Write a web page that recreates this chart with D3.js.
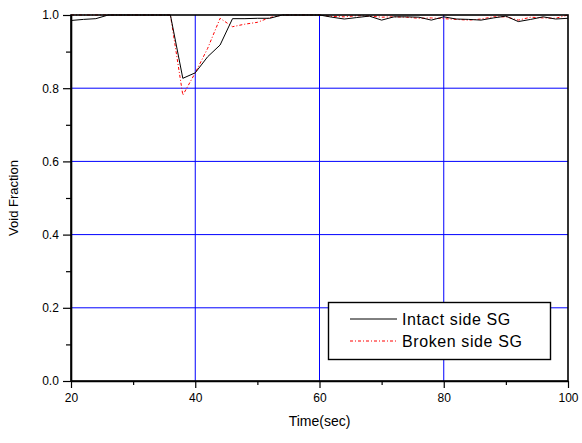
<!DOCTYPE html>
<html>
<head>
<meta charset="utf-8">
<script src="https://cdn.jsdelivr.net/npm/d3@7"></script>
<style>
  html, body { margin: 0; padding: 0; background: #fff; }
  svg { display: block; font-family: "Liberation Sans", Arial, sans-serif; }
</style>
</head>
<body>
<svg id="chart" width="582" height="443"></svg>
<script>
// Sample times (s)
const time = [20,22,24,26,28,30,32,34,36,38,40,42,44,46,48,50,52,54,56,58,60,
              62,64,66,68,70,72,74,76,78,80,82,84,86,88,90,92,94,96,98,100];

// Void fraction, intact-side steam generator
const intact = [0.985,0.988,0.990,1.0,1.0,1.0,1.0,1.0,1.0,0.827,0.842,0.886,0.918,0.990,0.990,0.991,0.991,1.0,1.0,1.0,1.0,
                0.994,0.989,0.993,0.997,0.986,0.995,0.995,0.994,0.986,0.995,0.989,0.988,0.986,0.992,0.997,0.982,0.988,0.995,0.989,0.991];

// Void fraction, broken-side steam generator
const broken = [1.0,1.0,1.0,1.0,1.0,1.0,1.0,1.0,1.0,0.781,0.842,0.909,0.991,0.968,0.975,0.980,0.993,1.0,1.0,1.0,1.0,
                0.996,0.995,0.998,0.997,0.994,0.995,0.994,0.991,0.992,0.990,0.988,0.986,0.989,0.995,0.995,0.986,0.994,0.992,0.991,1.0];

const xTicks = [20,40,60,80,100];
const xMinor = [30,50,70,90];
const yTicks = [0.0,0.2,0.4,0.6,0.8,1.0];
const yMinor = [0.1,0.3,0.5,0.7,0.9];
const xGrid = [40,60,80];
const yGrid = [0.2,0.4,0.6,0.8];
const seriesNames = ["Intact side SG","Broken side SG"];

const svg = d3.select("#chart");
const m = {left: 71, right: 568, top: 15, bottom: 381};

const x = d3.scaleLinear().domain([20,100]).range([m.left, m.right]);
const y = d3.scaleLinear().domain([0,1]).range([m.bottom, m.top]);

// Blue grid
const grid = svg.append("g");
grid.selectAll("line.gx").data(xGrid).join("line").attr("class", "gx")
  .attr("x1", d => x(d)).attr("x2", d => x(d))
  .attr("y1", m.top).attr("y2", m.bottom)
  .attr("stroke", "#0000ff").attr("stroke-width", 1);
grid.selectAll("line.gy").data(yGrid).join("line").attr("class", "gy")
  .attr("y1", d => y(d)).attr("y2", d => y(d))
  .attr("x1", m.left).attr("x2", m.right)
  .attr("stroke", "#0000ff").attr("stroke-width", 1);

// Data lines
const linePath = (vals) => d3.line().x((d,i) => x(time[i])).y(d => y(d))(vals);

svg.append("path").attr("d", linePath(broken))
  .attr("fill", "none").attr("stroke", "#ff0000").attr("stroke-width", 1)
  .attr("stroke-dasharray", "3,2,1,2");
svg.append("path").attr("d", linePath(intact))
  .attr("fill", "none").attr("stroke", "#000").attr("stroke-width", 1);

// Frame (top and right)
svg.append("rect").attr("x", m.left).attr("y", m.top)
  .attr("width", m.right - m.left).attr("height", m.bottom - m.top)
  .attr("fill", "none").attr("stroke", "#000").attr("stroke-width", 1.6);

// Axes
const xAxis = svg.append("g").attr("transform", `translate(0,${m.bottom})`)
  .call(d3.axisBottom(x).tickValues(xTicks).tickFormat(d3.format("d")).tickSize(7).tickSizeOuter(0));
svg.append("g").attr("transform", `translate(0,${m.bottom})`)
  .call(d3.axisBottom(x).tickValues(xMinor).tickFormat("").tickSize(4).tickSizeOuter(0))
  .call(g => g.select(".domain").remove());

const yAxis = svg.append("g").attr("transform", `translate(${m.left},0)`)
  .call(d3.axisLeft(y).tickValues(yTicks).tickFormat(d3.format(".1f")).tickSize(8).tickSizeOuter(0));
svg.append("g").attr("transform", `translate(${m.left},0)`)
  .call(d3.axisLeft(y).tickValues(yMinor).tickFormat("").tickSize(5).tickSizeOuter(0))
  .call(g => g.select(".domain").remove());

svg.selectAll(".domain").attr("stroke-width", 1.6);
svg.selectAll(".tick line").attr("stroke-width", 1.2);
xAxis.selectAll("text").attr("font-size", 12).attr("fill", "#000").attr("dy", "0.9em");
yAxis.selectAll("text").attr("font-size", 12).attr("fill", "#000").attr("dx", "-0.1em");
svg.selectAll(".tick text").attr("font-family", "'Liberation Sans', Arial, sans-serif");

// Axis titles
svg.append("text").attr("x", (m.left + m.right) / 2).attr("y", 426)
  .attr("text-anchor", "middle").attr("font-size", 14).text("Time(sec)");
svg.append("text").attr("transform", `translate(18,${(m.top + m.bottom) / 2}) rotate(-90)`)
  .attr("text-anchor", "middle").attr("font-size", 13).text("Void Fraction");

// Legend
const lg = svg.append("g");
lg.append("rect").attr("x", 328.5).attr("y", 302.5).attr("width", 222).attr("height", 57)
  .attr("fill", "#fff").attr("stroke", "#000").attr("stroke-width", 1.4);
const rows = [{name: seriesNames[0], color: "#000", dash: null},
              {name: seriesNames[1], color: "#ff0000", dash: "3,2,1,2"}];
rows.forEach((r, i) => {
  const yy = 319 + i * 22;
  lg.append("line").attr("x1", 350).attr("x2", 397).attr("y1", yy).attr("y2", yy)
    .attr("stroke", r.color).attr("stroke-width", 1).attr("stroke-dasharray", r.dash);
  lg.append("text").attr("x", 402).attr("y", yy + 5.5).attr("font-size", 16)
    .attr("letter-spacing", "0.6px").text(r.name);
});
</script>
</body>
</html>
